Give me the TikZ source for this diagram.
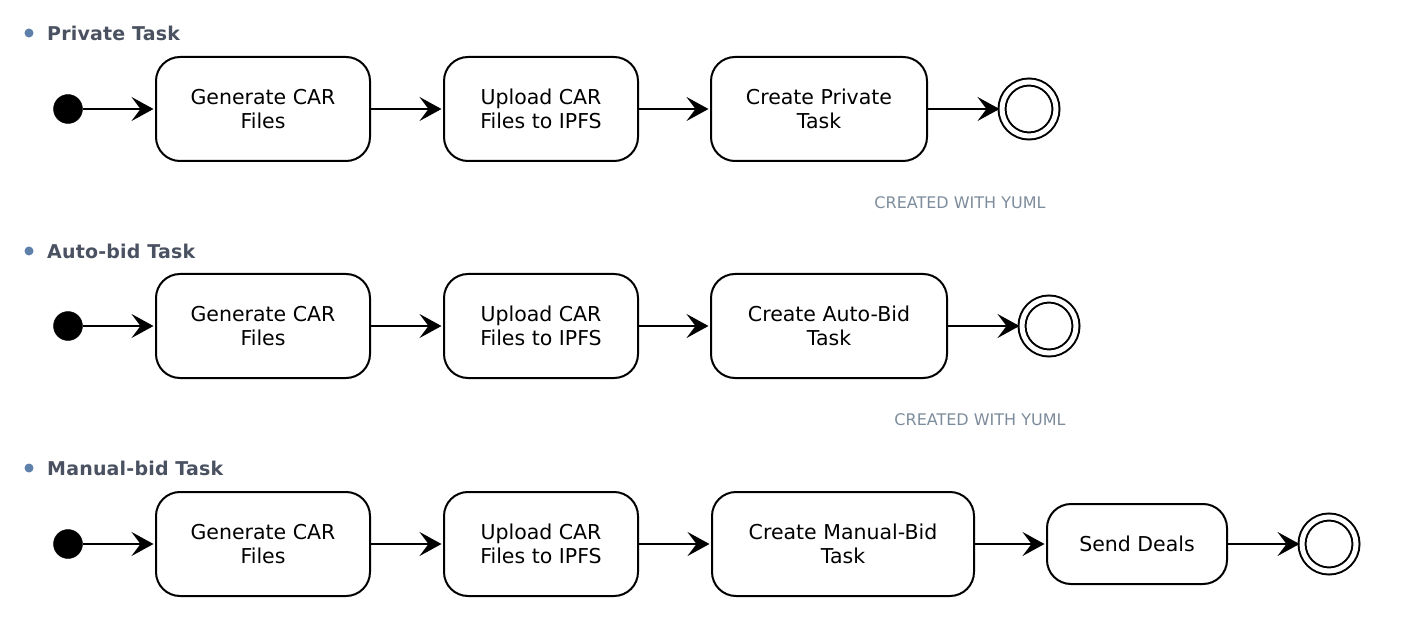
\documentclass[tikz,border=0pt]{standalone}
\usepackage{fontspec}
\setmainfont{DejaVu Sans}
\usetikzlibrary{arrows.meta}
\definecolor{headc}{HTML}{4A5262}
\definecolor{bulc}{HTML}{5E80AA}
\definecolor{yumlc}{HTML}{7D8C9C}
\tikzset{
  act/.style={draw, line width=2pt, rounded corners=24pt, align=center, font=\fontsize{20.5}{23.5}\selectfont, inner sep=0pt, minimum height=104pt},
  initdot/.style={circle, fill=black, draw=black, minimum size=29pt, inner sep=0pt},
  finalc/.style={circle, draw, line width=2pt, double=white, double distance=5pt, minimum size=54pt, inner sep=0pt},
  flowtip/.tip={Stealth[length=22pt,width=24pt,inset=9pt,line width=2.5pt]},
  flow/.style={line width=2pt, shorten >=1.5pt, -flowtip},
  head/.style={anchor=west, text=headc, font=\fontsize{19}{22}\selectfont\bfseries\addfontfeature{LetterSpace=1}},
  bul/.style={circle, fill=bulc, minimum size=9pt, inner sep=0pt},
  yuml/.style={text=yumlc, font=\fontsize{16}{19}\selectfont, anchor=center},
}
\begin{document}
\begin{tikzpicture}[x=1pt,y=-1pt]
\useasboundingbox (0,0) rectangle (1406,631);
% Row 1
\node[bul] (b1) at (29,33) {};
\node[head, inner sep=0pt] (h1) at (47,33) {Private Task};
\node[initdot] (i1) at (68,109) {};
\node[act, minimum width=214pt] (a1) at (263,109) {Generate CAR\\Files};
\node[act, minimum width=194pt] (a2) at (541,109) {Upload CAR\\Files to IPFS};
\node[act, minimum width=216pt] (a3) at (819,109) {Create Private\\Task};
\node[finalc] (f1) at (1029,109) {};
\draw[flow] (i1) -- (a1);
\draw[flow] (a1) -- (a2);
\draw[flow] (a2) -- (a3);
\draw[flow] (a3) -- (f1);
\node[yuml] (y1) at (960,203) {CREATED WITH YUML};
% Row 2
\node[bul] (b2) at (29,251) {};
\node[head, inner sep=0pt] (h2) at (47,251) {Auto-bid Task};
\node[initdot] (i2) at (68,326) {};
\node[act, minimum width=214pt] (c1) at (263,326) {Generate CAR\\Files};
\node[act, minimum width=194pt] (c2) at (541,326) {Upload CAR\\Files to IPFS};
\node[act, minimum width=236pt] (c3) at (829,326) {Create Auto-Bid\\Task};
\node[finalc] (f2) at (1049,326) {};
\draw[flow] (i2) -- (c1);
\draw[flow] (c1) -- (c2);
\draw[flow] (c2) -- (c3);
\draw[flow] (c3) -- (f2);
\node[yuml] (y2) at (980,420) {CREATED WITH YUML};
% Row 3
\node[bul] (b3) at (29,468) {};
\node[head, inner sep=0pt] (h3) at (47,468) {Manual-bid Task};
\node[initdot] (i3) at (68,544) {};
\node[act, minimum width=214pt] (d1) at (263,544) {Generate CAR\\Files};
\node[act, minimum width=194pt] (d2) at (541,544) {Upload CAR\\Files to IPFS};
\node[act, minimum width=262pt] (d3) at (843,544) {Create Manual-Bid\\Task};
\node[act, minimum width=180pt, minimum height=80pt] (d4) at (1137,544) {Send Deals};
\node[finalc] (f3) at (1329,544) {};
\draw[flow] (i3) -- (d1);
\draw[flow] (d1) -- (d2);
\draw[flow] (d2) -- (d3);
\draw[flow] (d3) -- (d4);
\draw[flow] (d4) -- (f3);
\end{tikzpicture}
\end{document}
